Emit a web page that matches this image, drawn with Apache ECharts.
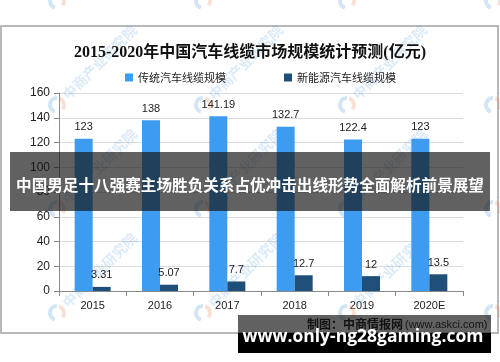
<!DOCTYPE html>
<html>
<head>
<meta charset="utf-8">
<script src="https://cdn.jsdelivr.net/npm/echarts@6/dist/echarts.min.js"></script>
<style>
  html, body { margin: 0; padding: 0; background: #fff; }
  #chart { width: 500px; height: 362px; }
</style>
</head>
<body>
<div id="chart"></div>
<script>
// 数据
const years = ['2015', '2016', '2017', '2018', '2019', '2020E'];
const traditional = [123, 138, 141.19, 132.7, 122.4, 123];   // 传统汽车线缆规模
const newEnergy = [3.31, 5.07, 7.7, 12.7, 12, 13.5];         // 新能源汽车线缆规模
const yTicks = [0, 20, 40, 60, 80, 100, 120, 140, 160];

const chart = echarts.init(document.getElementById('chart'));

// 水印（中商产业研究院）
const wmX = [57, 203, 347, 493];
const wmY = [1, 105, 209, 313];
const watermarks = [];
wmY.forEach(y => {
  wmX.forEach(x => {
    watermarks.push({
      type: 'arc', z: 1,
      shape: { cx: x, cy: y, r: 7, startAngle: Math.PI * 0.6, endAngle: Math.PI * 1.5 },
      style: { stroke: 'rgba(90,160,225,0.28)', lineWidth: 4, fill: null }
    });
    watermarks.push({
      type: 'arc', z: 1,
      shape: { cx: x, cy: y, r: 7, startAngle: Math.PI * 1.6, endAngle: Math.PI * 2.2 },
      style: { stroke: 'rgba(240,140,100,0.28)', lineWidth: 4, fill: null }
    });
    watermarks.push({
      type: 'text', z: 1,
      x: x + 8, y: y - 8, rotation: Math.PI / 4,
      style: {
        text: '中商产业研究院',
        fill: 'rgba(90,160,225,0.22)',
        font: 'bold 14px "Noto Sans CJK SC"',
        textVerticalAlign: 'middle'
      }
    });
  });
});

const option = {
  backgroundColor: '#fff',
  animation: false,
  title: {
    text: '2015-2020年中国汽车线缆市场规模统计预测(亿元)',
    left: 'center',
    top: 40,
    textStyle: {
      fontSize: 16,
      fontWeight: 'bold',
      color: '#111',
      fontFamily: '"Liberation Serif", "Noto Sans CJK SC"'
    }
  },
  legend: {
    data: ['传统汽车线缆规模', '新能源汽车线缆规模'],
    top: 67,
    left: 120,
    itemWidth: 8,
    itemHeight: 8,
    itemGap: 58,
    icon: 'rect',
    textStyle: { fontSize: 11, color: '#222', fontFamily: '"Noto Sans CJK SC"' }
  },
  grid: { left: 59, right: 37, top: 93, bottom: 71 },
  xAxis: {
    type: 'category',
    data: years,
    axisLine: { lineStyle: { color: '#888' } },
    axisTick: { show: true, length: 5, lineStyle: { color: '#888' } },
    axisLabel: { color: '#222', fontSize: 11, margin: 9, fontFamily: '"Liberation Sans"' }
  },
  yAxis: {
    type: 'value',
    min: 0,
    max: 160,
    interval: 20,
    axisLine: { show: true, lineStyle: { color: '#888' } },
    axisTick: { show: true, length: 5, lineStyle: { color: '#888' } },
    axisLabel: { color: '#222', fontSize: 12, margin: 9, fontFamily: '"Liberation Sans"' },
    splitLine: { lineStyle: { color: '#dcdcdc' } }
  },
  series: [
    {
      name: '传统汽车线缆规模',
      type: 'bar',
      data: traditional,
      barWidth: 18,
      barGap: '0%',
      itemStyle: { color: '#3d9cf0' },
      label: {
        show: true, position: 'top', distance: 6,
        color: '#222', fontSize: 11, fontFamily: '"Liberation Sans"'
      },
      z: 2
    },
    {
      name: '新能源汽车线缆规模',
      type: 'bar',
      data: newEnergy,
      barWidth: 18,
      itemStyle: { color: '#1f4e79' },
      label: {
        show: true, position: 'top', distance: 6,
        color: '#222', fontSize: 11, fontFamily: '"Liberation Sans"'
      },
      z: 2
    }
  ],
  graphic: [
    // 外框
    {
      type: 'rect', z: 0, silent: true,
      shape: { x: 1, y: 26, width: 497, height: 307 },
      style: { fill: null, stroke: '#a3a3a3', lineWidth: 1.5 }
    },
    ...watermarks,
    // 来源
    {
      type: 'text', z: 5,
      x: 307, y: 324,
      style: {
        text: '制图：中商情报网',
        font: 'bold 12px "Noto Sans CJK SC"',
        fill: '#111',
        textVerticalAlign: 'middle'
      }
    },
    {
      type: 'text', z: 5,
      x: 405, y: 325,
      style: {
        text: '(www.askci.com)',
        font: '11px "Liberation Sans"',
        fill: '#111',
        textVerticalAlign: 'middle'
      }
    },
    // 覆盖横幅
    {
      type: 'rect', z: 10,
      shape: { x: 10, y: 152, width: 480, height: 59 },
      style: { fill: 'rgba(20,20,20,0.67)' }
    },
    {
      type: 'text', z: 11,
      x: 250, y: 185,
      style: {
        text: '中国男足十八强赛主场胜负关系占优冲击出线形势全面解析前景展望',
        font: 'bold 15.6px "Noto Sans CJK SC"',
        fill: '#fff',
        textAlign: 'center',
        textVerticalAlign: 'middle'
      }
    },
    {
      type: 'rect', z: 10,
      shape: { x: 238, y: 315, width: 253, height: 18 },
      style: { fill: 'rgba(20,20,20,0.67)' }
    },
    {
      type: 'rect', z: 10,
      shape: { x: 238, y: 333, width: 253, height: 20 },
      style: { fill: '#000' }
    },
    {
      type: 'text', z: 11,
      x: 363, y: 337,
      style: {
        text: 'www.only-ng28gaming.com',
        font: 'bold 17.5px "Open Sans"',
        fill: '#fff',
        textAlign: 'center',
        textVerticalAlign: 'middle'
      }
    }
  ]
};

chart.setOption(option);
</script>
</body>
</html>
